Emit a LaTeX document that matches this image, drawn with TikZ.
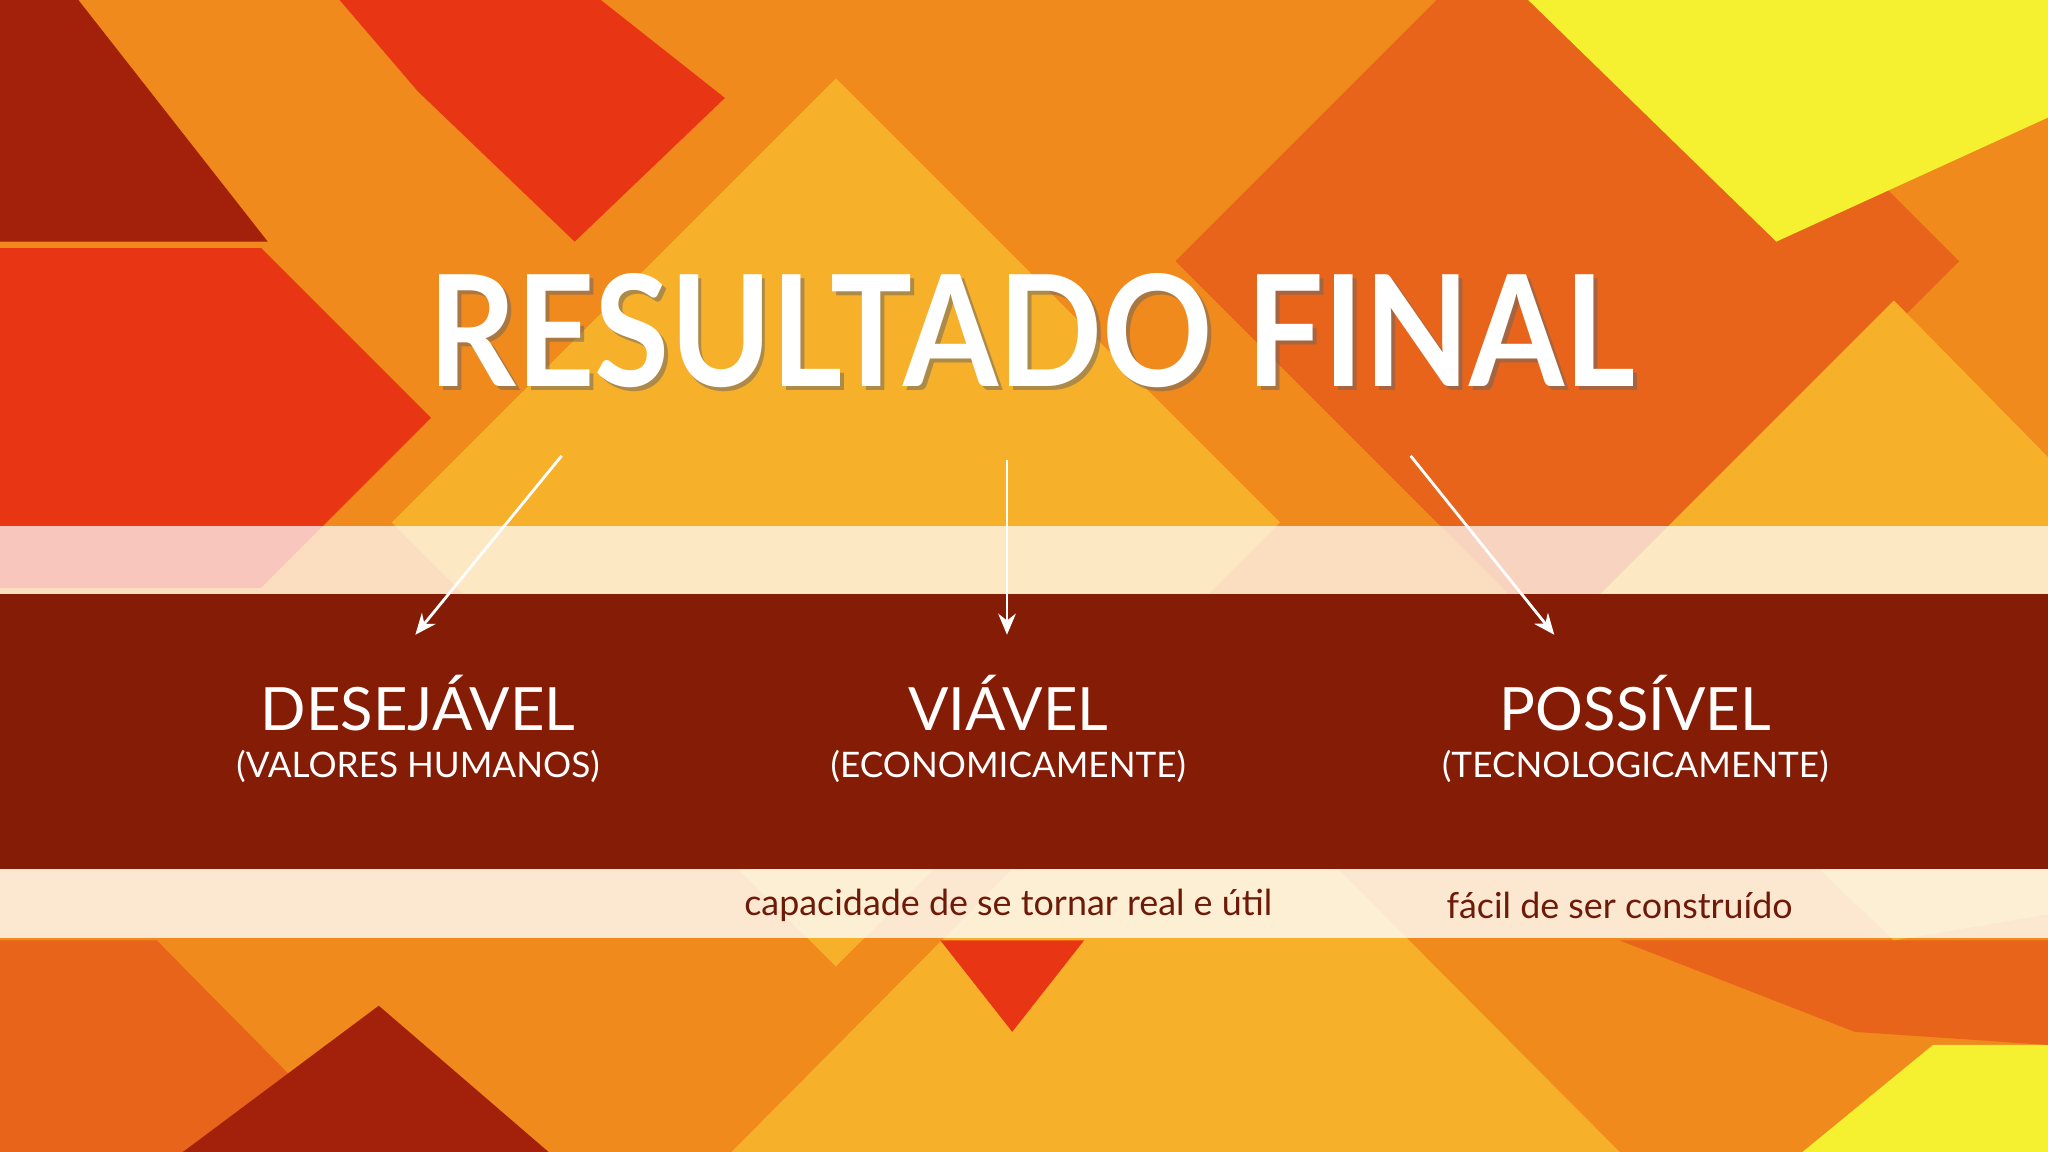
\documentclass[tikz,border=0pt]{standalone}
\usepackage{fontspec}
\setmainfont{Lato}
\usetikzlibrary{arrows.meta}
\definecolor{bgor}{HTML}{F08A1C}
\definecolor{dor}{HTML}{E8641A}
\definecolor{yor}{HTML}{F7B02A}
\definecolor{red1}{HTML}{E83514}
\definecolor{red2}{HTML}{A3200A}
\definecolor{yel}{HTML}{F5F030}
\definecolor{band}{HTML}{851C05}
\definecolor{txtred}{HTML}{6E1A08}
\tikzset{
 lbl/.style={text=white,font=\fontsize{17}{20}\selectfont},
 sub/.style={text=white,font=\fontsize{10}{12}\selectfont},
 low/.style={text=txtred,font=\fontsize{10.2}{12}\selectfont},
 arr/.style={white,line width=0.8pt,-{Stealth[length=6pt,width=5pt]}},
}
\newcommand{\ttl}{\scalebox{0.885}[1]{RESULTADO FINAL}}
\begin{document}
\begin{tikzpicture}[x=0.01306cm,y=-0.01306cm]
\useasboundingbox (0,0) rectangle (1568,882);
\fill[bgor] (0,0) rectangle (1568,882);
% background diamonds
\fill[yor] (300,400) -- (640,60) -- (980,400) -- (640,740) -- cycle;
\fill[yor] (560,882) -- (900,540) -- (1240,882) -- cycle;
\fill[dor] (900,200) -- (1200,-100) -- (1500,200) -- (1200,500) -- cycle;
\fill[yor] (1200,480) -- (1450,230) -- (1568,350) -- (1568,700) -- (1450,720) -- cycle;
\fill[yel] (1170,0) -- (1568,0) -- (1568,90) -- (1360,185) -- cycle;
\fill[red1] (260,0) -- (460,0) -- (555,75) -- (440,185) -- (320,70) -- cycle;
\fill[red2] (0,0) -- (60,0) -- (205,185) -- (0,185) -- cycle;
\fill[red1] (0,190) -- (200,190) -- (330,320) -- (200,450) -- (0,450) -- cycle;
\fill[dor] (0,720) -- (120,720) -- (280,882) -- (0,882) -- cycle;
\fill[red2] (140,882) -- (290,770) -- (420,882) -- cycle;
\fill[red1] (720,720) -- (830,720) -- (775,790) -- cycle;
\fill[yel] (1380,882) -- (1480,800) -- (1568,800) -- (1568,882) -- cycle;
\fill[dor] (1240,720) -- (1568,720) -- (1568,800) -- (1420,790) -- cycle;
% bands
\fill[white,opacity=0.72] (0,403) rectangle (1568,455);
\fill[band] (0,455) rectangle (1568,665);
\fill[white,opacity=0.8] (0,665) rectangle (1568,718);
% title
\node[text=black!60,opacity=0.5,font=\fontsize{44}{50}\selectfont\bfseries] at (793,256) {\ttl};
\node (title) [text=white,font=\fontsize{44}{50}\selectfont\bfseries] at (790,253) {\ttl};
% labels
\node (d) [lbl] at (320,538) {DESEJÁVEL};
\node (v) [lbl] at (772,538) {VIÁVEL};
\node (p) [lbl] at (1252,538) {POSSÍVEL};
\node (ds) [sub] at (320,587) {(VALORES HUMANOS)};
\node (vs) [sub] at (772,587) {(ECONOMICAMENTE)};
\node (ps) [sub] at (1252,587) {(TECNOLOGICAMENTE)};
\node (vl) [low] at (772,693) {capacidade de se tornar real e útil};
\node (pl) [low] at (1240,693) {fácil de ser construído};
% arrows
\coordinate (a1) at (430,349); \coordinate (b1) at (318,486);
\coordinate (a2) at (771,352); \coordinate (b2) at (771,486);
\coordinate (a3) at (1080,349); \coordinate (b3) at (1190,486);
\draw[arr] (a1) -- (b1);
\draw[arr] (a2) -- (b2);
\draw[arr] (a3) -- (b3);
\end{tikzpicture}
\end{document}
